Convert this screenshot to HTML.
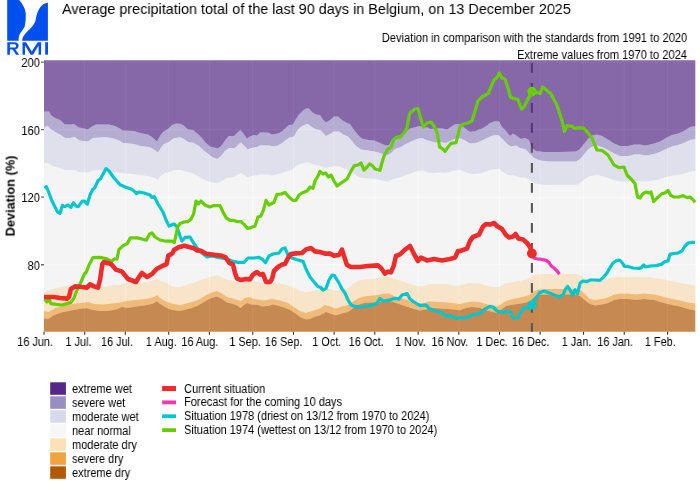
<!DOCTYPE html>
<html><head><meta charset="utf-8"><title>RMI precipitation</title>
<style>
html,body{margin:0;padding:0;background:#fff;}
body{width:700px;height:490px;position:relative;overflow:hidden;font-family:"Liberation Sans",sans-serif;color:#000;}
svg{position:absolute;left:0;top:0;}
.t{position:absolute;white-space:nowrap;line-height:1;will-change:transform;}
.title{left:62.0px;top:1.3px;font-size:15px;transform:scaleX(0.96);transform-origin:0 50%;}
.sub{right:12.6px;font-size:12.5px;text-align:right;transform:scaleX(0.89);transform-origin:100% 50%;}
.xl{font-size:12.4px;top:335.7px;transform:translateX(-75%) scaleX(0.878);transform-origin:75% 50%;color:#000;}
.yl{font-size:12.5px;right:660.6px;transform:scaleX(0.89);transform-origin:100% 50%;color:#000;}
.lg{font-size:12.3px;transform:scaleX(0.896);transform-origin:0 50%;}
.rmi{left:6.5px;top:40.5px;font-size:17.5px;color:#0050f0;letter-spacing:1.2px;}
.ytitle{left:11.3px;top:196px;font-size:12.75px;font-weight:bold;transform:translate(-50%,-50%) rotate(-90deg);}
</style></head><body>
<svg width="700" height="490" viewBox="0 0 700 490">
<rect x="44.0" y="60.3" width="651.3" height="271.4" fill="#ebebeb"/>
<path d="M84.67 60.3V331.7M125.34 60.3V331.7M168.72 60.3V331.7M209.39 60.3V331.7M252.77 60.3V331.7M293.44 60.3V331.7M334.11 60.3V331.7M374.78 60.3V331.7M418.16 60.3V331.7M458.83 60.3V331.7M499.50 60.3V331.7M540.17 60.3V331.7M583.55 60.3V331.7M624.22 60.3V331.7M667.60 60.3V331.7M44.0 62.10H695.3M44.0 129.65H695.3M44.0 197.20H695.3M44.0 264.75H695.3" stroke="#fff" stroke-width="1.08" fill="none"/>
<polygon points="44.0,111.4 49.0,111.4 51.0,115.0 55.0,118.0 60.0,120.0 65.0,124.6 70.0,124.6 74.0,124.0 79.0,127.4 84.4,128.6 87.6,129.4 92.0,126.6 96.0,124.4 109.0,124.4 115.0,126.0 120.0,128.6 122.4,130.6 134.0,131.0 140.0,133.0 148.0,134.6 152.0,137.0 157.0,141.4 160.0,136.0 163.0,132.0 168.0,129.0 172.0,125.0 176.0,123.4 180.0,123.8 183.0,125.0 188.0,129.4 193.0,130.0 198.0,134.0 202.0,138.0 206.0,143.0 210.0,146.6 214.0,147.4 218.0,148.6 222.0,145.0 226.0,139.0 229.0,136.0 234.0,136.0 238.0,132.0 240.4,130.0 243.0,133.0 247.0,138.6 250.0,136.6 254.0,135.0 257.0,135.4 260.0,132.6 268.0,132.6 272.0,134.6 278.0,133.4 282.0,131.4 286.0,127.4 289.0,125.0 293.0,124.6 296.0,119.0 299.0,114.6 303.0,110.6 306.0,108.6 309.0,108.6 312.0,112.0 316.0,114.6 320.0,115.0 323.0,119.4 326.0,122.6 330.0,120.0 334.0,116.6 338.0,116.6 342.0,120.0 346.0,122.6 350.0,124.0 354.0,130.0 359.0,136.0 362.0,138.6 368.0,140.0 374.0,140.6 380.0,143.0 386.0,145.4 389.0,145.0 392.0,139.4 396.0,136.6 400.0,135.0 406.0,132.0 410.0,128.6 416.0,127.0 420.0,126.0 424.0,127.4 428.0,127.5 430.0,129.0 439.0,128.2 443.0,128.5 447.0,129.8 450.0,127.5 454.5,124.5 458.5,124.0 463.0,126.5 467.0,130.0 470.0,131.8 475.0,131.2 482.0,128.5 487.0,125.5 490.0,123.0 495.0,121.3 499.0,121.5 502.0,127.0 506.0,131.0 510.0,136.0 513.0,133.6 517.0,136.0 521.0,139.0 525.0,138.0 529.0,140.0 532.0,148.0 536.0,151.0 544.0,152.0 560.0,152.0 576.0,151.6 580.0,149.0 584.0,144.0 588.0,139.0 592.0,135.6 597.0,134.4 602.0,136.0 608.0,139.6 614.0,143.6 620.0,146.0 628.0,146.0 634.0,144.4 640.0,144.4 646.0,145.6 654.0,143.6 660.0,141.6 666.0,138.0 672.0,135.0 678.0,133.6 684.0,131.0 690.0,127.0 695.3,126.0 695.3,139.0 690.0,140.0 684.0,143.0 678.0,145.0 672.0,146.4 666.0,149.0 660.0,152.0 654.0,154.0 646.0,155.6 640.0,154.4 634.0,154.4 628.0,156.0 620.0,156.0 614.0,153.6 608.0,150.0 602.0,147.0 597.0,145.6 592.0,146.4 588.0,149.6 584.0,154.4 580.0,159.0 576.0,161.6 560.0,161.4 548.0,161.4 540.0,160.6 534.0,158.0 530.0,154.0 526.0,149.4 520.0,148.0 516.0,145.4 511.0,146.6 507.0,144.0 502.0,138.6 498.0,135.0 493.0,135.4 488.0,137.4 482.0,140.6 476.0,143.0 470.0,143.4 465.0,140.6 460.0,138.3 456.0,138.6 451.0,140.6 446.0,143.0 440.0,142.0 435.0,142.6 430.0,141.0 426.0,140.0 422.0,138.0 417.0,139.0 411.0,141.4 406.0,144.0 400.0,147.4 395.0,149.0 391.0,153.0 387.0,155.4 380.0,153.0 374.0,151.4 368.0,150.6 361.0,149.4 356.0,146.0 352.0,141.0 348.0,136.6 343.0,134.6 339.0,131.4 334.0,131.4 330.0,134.0 326.0,136.0 323.0,133.0 320.0,130.0 316.0,129.4 311.0,126.6 308.0,124.0 304.0,125.0 300.0,127.4 297.0,131.0 294.0,136.6 290.0,137.4 286.0,140.0 282.0,143.0 278.0,145.4 273.0,146.6 269.0,145.4 260.0,145.4 257.0,147.0 251.0,148.0 247.6,149.4 244.0,145.4 241.0,142.6 239.0,144.0 235.0,148.0 229.0,148.0 225.0,151.0 221.0,156.0 217.0,159.0 212.0,157.0 207.0,153.0 202.0,149.0 199.0,146.0 194.0,143.0 188.0,142.0 184.0,139.0 180.0,137.2 173.0,138.6 169.0,142.0 164.0,144.0 161.0,147.4 158.0,152.6 154.0,149.4 149.0,147.0 140.0,146.0 134.0,144.0 123.0,143.0 120.0,141.0 115.0,139.0 106.0,137.0 93.0,138.0 88.0,141.4 79.0,140.6 75.0,137.0 70.0,138.0 65.0,138.0 60.0,134.6 56.0,132.6 51.0,129.4 48.0,126.0 44.0,127.0" fill="#998ec3" fill-opacity="0.67"/>
<polygon points="44.0,127.0 48.0,126.0 51.0,129.4 56.0,132.6 60.0,134.6 65.0,138.0 70.0,138.0 75.0,137.0 79.0,140.6 88.0,141.4 93.0,138.0 106.0,137.0 115.0,139.0 120.0,141.0 123.0,143.0 134.0,144.0 140.0,146.0 149.0,147.0 154.0,149.4 158.0,152.6 161.0,147.4 164.0,144.0 169.0,142.0 173.0,138.6 180.0,137.2 184.0,139.0 188.0,142.0 194.0,143.0 199.0,146.0 202.0,149.0 207.0,153.0 212.0,157.0 217.0,159.0 221.0,156.0 225.0,151.0 229.0,148.0 235.0,148.0 239.0,144.0 241.0,142.6 244.0,145.4 247.6,149.4 251.0,148.0 257.0,147.0 260.0,145.4 269.0,145.4 273.0,146.6 278.0,145.4 282.0,143.0 286.0,140.0 290.0,137.4 294.0,136.6 297.0,131.0 300.0,127.4 304.0,125.0 308.0,124.0 311.0,126.6 316.0,129.4 320.0,130.0 323.0,133.0 326.0,136.0 330.0,134.0 334.0,131.4 339.0,131.4 343.0,134.6 348.0,136.6 352.0,141.0 356.0,146.0 361.0,149.4 368.0,150.6 374.0,151.4 380.0,153.0 387.0,155.4 391.0,153.0 395.0,149.0 400.0,147.4 406.0,144.0 411.0,141.4 417.0,139.0 422.0,138.0 426.0,140.0 430.0,141.0 435.0,142.6 440.0,142.0 446.0,143.0 451.0,140.6 456.0,138.6 460.0,138.3 465.0,140.6 470.0,143.4 476.0,143.0 482.0,140.6 488.0,137.4 493.0,135.4 498.0,135.0 502.0,138.6 507.0,144.0 511.0,146.6 516.0,145.4 520.0,148.0 526.0,149.4 530.0,154.0 534.0,158.0 540.0,160.6 548.0,161.4 560.0,161.4 576.0,161.6 580.0,159.0 584.0,154.4 588.0,149.6 592.0,146.4 597.0,145.6 602.0,147.0 608.0,150.0 614.0,153.6 620.0,156.0 628.0,156.0 634.0,154.4 640.0,154.4 646.0,155.6 654.0,154.0 660.0,152.0 666.0,149.0 672.0,146.4 678.0,145.0 684.0,143.0 690.0,140.0 695.3,139.0 695.3,171.0 690.0,171.6 684.0,173.6 676.0,175.0 668.0,176.4 660.0,179.0 654.0,180.4 646.0,181.6 636.0,181.0 628.0,181.6 620.0,181.6 614.0,180.0 608.0,178.0 602.0,176.0 597.0,175.0 590.0,176.0 585.0,179.0 580.0,183.0 576.0,185.0 572.0,185.0 548.0,185.0 540.0,184.6 534.0,183.0 530.0,180.0 526.0,177.4 520.0,177.4 514.0,175.4 508.0,175.0 503.0,172.0 499.0,169.0 492.0,169.4 486.0,171.4 480.0,173.4 472.0,174.0 466.0,172.6 460.0,170.0 452.0,171.0 446.0,173.0 440.0,172.6 434.0,173.0 428.0,172.6 423.0,170.6 418.0,171.0 412.0,173.0 406.0,175.0 400.0,177.4 394.0,179.0 388.0,181.4 382.0,180.6 376.0,179.0 368.0,178.6 360.0,177.4 355.0,174.6 350.0,171.0 344.0,168.6 338.0,166.0 330.0,167.0 325.0,168.0 320.0,165.8 313.0,164.4 309.0,162.4 305.0,162.4 300.0,164.0 296.0,166.0 292.0,170.0 286.0,171.6 280.0,173.6 273.0,175.6 268.0,174.4 260.0,174.4 252.0,176.0 248.0,177.6 244.0,175.0 241.0,173.0 239.0,174.0 234.0,177.0 227.0,178.0 222.0,181.0 217.0,183.0 210.0,182.0 204.0,179.6 198.0,176.0 192.0,173.0 186.0,171.6 180.0,170.0 174.0,170.0 170.0,172.0 165.0,173.0 161.0,175.4 158.0,179.4 152.0,177.0 144.0,175.4 134.0,174.0 120.0,173.0 112.0,171.4 104.0,170.0 93.0,170.6 88.0,172.6 79.0,172.0 75.0,170.0 65.0,170.0 60.0,168.0 52.0,166.0 49.0,163.4 44.0,163.0" fill="#d8daeb" fill-opacity="0.67"/>
<polygon points="44.0,163.0 49.0,163.4 52.0,166.0 60.0,168.0 65.0,170.0 75.0,170.0 79.0,172.0 88.0,172.6 93.0,170.6 104.0,170.0 112.0,171.4 120.0,173.0 134.0,174.0 144.0,175.4 152.0,177.0 158.0,179.4 161.0,175.4 165.0,173.0 170.0,172.0 174.0,170.0 180.0,170.0 186.0,171.6 192.0,173.0 198.0,176.0 204.0,179.6 210.0,182.0 217.0,183.0 222.0,181.0 227.0,178.0 234.0,177.0 239.0,174.0 241.0,173.0 244.0,175.0 248.0,177.6 252.0,176.0 260.0,174.4 268.0,174.4 273.0,175.6 280.0,173.6 286.0,171.6 292.0,170.0 296.0,166.0 300.0,164.0 305.0,162.4 309.0,162.4 313.0,164.4 320.0,165.8 325.0,168.0 330.0,167.0 338.0,166.0 344.0,168.6 350.0,171.0 355.0,174.6 360.0,177.4 368.0,178.6 376.0,179.0 382.0,180.6 388.0,181.4 394.0,179.0 400.0,177.4 406.0,175.0 412.0,173.0 418.0,171.0 423.0,170.6 428.0,172.6 434.0,173.0 440.0,172.6 446.0,173.0 452.0,171.0 460.0,170.0 466.0,172.6 472.0,174.0 480.0,173.4 486.0,171.4 492.0,169.4 499.0,169.0 503.0,172.0 508.0,175.0 514.0,175.4 520.0,177.4 526.0,177.4 530.0,180.0 534.0,183.0 540.0,184.6 548.0,185.0 572.0,185.0 576.0,185.0 580.0,183.0 585.0,179.0 590.0,176.0 597.0,175.0 602.0,176.0 608.0,178.0 614.0,180.0 620.0,181.6 628.0,181.6 636.0,181.0 646.0,181.6 654.0,180.4 660.0,179.0 668.0,176.4 676.0,175.0 684.0,173.6 690.0,171.6 695.3,171.0 695.3,285.6 688.0,284.4 680.0,283.0 672.0,281.6 664.0,279.6 654.0,278.0 644.0,277.0 636.0,277.6 628.0,277.0 618.0,277.0 612.0,278.0 606.0,279.6 600.0,281.5 590.0,280.5 585.0,279.0 581.0,275.6 576.0,274.0 540.1,274.0 533.6,275.2 528.4,279.2 519.2,281.1 512.0,282.2 506.1,283.7 501.0,286.2 497.0,287.6 487.8,286.3 484.0,285.2 480.0,283.6 476.0,283.4 468.6,283.2 464.0,284.3 460.0,285.6 455.0,286.6 451.0,285.0 446.0,284.0 434.0,284.0 427.4,284.6 423.0,286.6 416.0,285.7 407.0,282.9 400.0,280.8 394.0,279.0 388.0,277.0 382.0,277.0 376.0,278.4 371.4,278.9 365.0,279.5 358.9,280.6 353.1,284.0 350.0,286.8 347.4,289.0 342.0,289.8 336.0,290.4 328.0,289.0 320.0,289.4 314.0,291.0 306.0,292.4 300.0,291.0 292.0,287.0 284.0,284.4 276.0,283.0 270.0,284.0 262.0,283.0 254.0,281.6 248.0,281.0 240.0,282.4 234.0,281.0 228.0,280.0 222.0,277.6 217.0,275.6 210.0,277.0 204.0,279.0 196.0,282.0 188.0,284.4 180.0,287.3 172.0,286.4 168.0,283.6 161.0,281.6 157.0,279.0 154.0,280.0 148.0,282.0 140.0,283.0 134.0,283.6 126.0,283.0 120.0,285.0 112.0,285.6 104.0,287.0 92.0,287.0 84.4,288.0 76.0,286.4 68.0,285.6 60.0,287.6 50.0,290.0 44.0,292.4" fill="#f7f7f7" fill-opacity="0.67"/>
<polygon points="44.0,292.4 50.0,290.0 60.0,287.6 68.0,285.6 76.0,286.4 84.4,288.0 92.0,287.0 104.0,287.0 112.0,285.6 120.0,285.0 126.0,283.0 134.0,283.6 140.0,283.0 148.0,282.0 154.0,280.0 157.0,279.0 161.0,281.6 168.0,283.6 172.0,286.4 180.0,287.3 188.0,284.4 196.0,282.0 204.0,279.0 210.0,277.0 217.0,275.6 222.0,277.6 228.0,280.0 234.0,281.0 240.0,282.4 248.0,281.0 254.0,281.6 262.0,283.0 270.0,284.0 276.0,283.0 284.0,284.4 292.0,287.0 300.0,291.0 306.0,292.4 314.0,291.0 320.0,289.4 328.0,289.0 336.0,290.4 342.0,289.8 347.4,289.0 350.0,286.8 353.1,284.0 358.9,280.6 365.0,279.5 371.4,278.9 376.0,278.4 382.0,277.0 388.0,277.0 394.0,279.0 400.0,280.8 407.0,282.9 416.0,285.7 423.0,286.6 427.4,284.6 434.0,284.0 446.0,284.0 451.0,285.0 455.0,286.6 460.0,285.6 464.0,284.3 468.6,283.2 476.0,283.4 480.0,283.6 484.0,285.2 487.8,286.3 497.0,287.6 501.0,286.2 506.1,283.7 512.0,282.2 519.2,281.1 528.4,279.2 533.6,275.2 540.1,274.0 576.0,274.0 581.0,275.6 585.0,279.0 590.0,280.5 600.0,281.5 606.0,279.6 612.0,278.0 618.0,277.0 628.0,277.0 636.0,277.6 644.0,277.0 654.0,278.0 664.0,279.6 672.0,281.6 680.0,283.0 688.0,284.4 695.3,285.6 695.3,303.6 688.0,302.4 680.0,300.4 672.0,299.0 664.0,297.0 654.0,294.4 644.0,293.6 636.0,294.4 628.0,293.6 620.0,293.6 614.0,294.4 608.0,297.6 602.0,299.0 595.0,300.0 589.0,298.4 585.0,294.0 581.0,290.5 576.0,289.0 548.0,289.0 538.2,289.4 533.6,291.6 529.7,294.8 523.1,296.8 514.0,298.8 506.1,300.7 501.6,304.0 497.0,306.6 487.8,304.6 480.0,302.2 472.0,301.6 466.0,302.4 460.0,304.0 448.0,302.4 438.0,302.0 429.0,301.6 424.0,303.0 418.0,303.6 412.0,302.0 406.0,299.6 400.0,298.0 394.0,296.0 389.0,293.6 384.0,293.6 378.0,295.0 372.0,295.6 364.0,296.4 358.0,298.4 353.0,301.6 348.0,305.0 342.0,306.4 336.0,308.4 330.0,306.4 325.0,305.0 320.0,308.5 312.0,311.0 306.0,313.0 300.0,311.0 294.0,307.0 288.0,303.0 280.0,300.4 272.0,299.0 264.0,300.4 254.0,299.0 249.0,297.0 245.0,298.0 241.0,301.0 234.0,299.0 227.0,297.0 222.0,293.6 217.0,291.0 210.0,293.0 204.0,296.4 198.0,300.0 192.0,302.0 186.0,303.6 180.0,305.2 172.0,303.6 165.0,301.0 160.0,298.0 157.0,295.0 154.0,297.0 146.0,299.0 136.0,300.0 126.0,301.0 120.0,302.4 112.0,303.6 104.0,304.4 94.0,304.0 88.0,302.0 84.4,302.4 76.0,303.4 66.9,304.7 60.0,306.8 55.4,308.0 52.0,310.0 48.6,312.0 44.0,311.0" fill="#fee0b6" fill-opacity="0.67"/>
<polygon points="44.0,311.0 48.6,312.0 52.0,310.0 55.4,308.0 60.0,306.8 66.9,304.7 76.0,303.4 84.4,302.4 88.0,302.0 94.0,304.0 104.0,304.4 112.0,303.6 120.0,302.4 126.0,301.0 136.0,300.0 146.0,299.0 154.0,297.0 157.0,295.0 160.0,298.0 165.0,301.0 172.0,303.6 180.0,305.2 186.0,303.6 192.0,302.0 198.0,300.0 204.0,296.4 210.0,293.0 217.0,291.0 222.0,293.6 227.0,297.0 234.0,299.0 241.0,301.0 245.0,298.0 249.0,297.0 254.0,299.0 264.0,300.4 272.0,299.0 280.0,300.4 288.0,303.0 294.0,307.0 300.0,311.0 306.0,313.0 312.0,311.0 320.0,308.5 325.0,305.0 330.0,306.4 336.0,308.4 342.0,306.4 348.0,305.0 353.0,301.6 358.0,298.4 364.0,296.4 372.0,295.6 378.0,295.0 384.0,293.6 389.0,293.6 394.0,296.0 400.0,298.0 406.0,299.6 412.0,302.0 418.0,303.6 424.0,303.0 429.0,301.6 438.0,302.0 448.0,302.4 460.0,304.0 466.0,302.4 472.0,301.6 480.0,302.2 487.8,304.6 497.0,306.6 501.6,304.0 506.1,300.7 514.0,298.8 523.1,296.8 529.7,294.8 533.6,291.6 538.2,289.4 548.0,289.0 576.0,289.0 581.0,290.5 585.0,294.0 589.0,298.4 595.0,300.0 602.0,299.0 608.0,297.6 614.0,294.4 620.0,293.6 628.0,293.6 636.0,294.4 644.0,293.6 654.0,294.4 664.0,297.0 672.0,299.0 680.0,300.4 688.0,302.4 695.3,303.6 695.3,310.4 688.0,309.0 680.0,306.4 672.0,305.0 664.0,303.0 654.0,300.0 644.0,299.0 636.0,300.0 628.0,299.0 620.0,299.0 614.0,300.0 608.0,303.0 602.0,304.4 595.0,305.6 589.0,303.6 584.0,299.6 580.0,296.0 576.0,294.6 548.0,294.5 538.2,294.9 533.6,297.5 529.7,301.4 523.1,303.3 514.0,304.6 506.1,305.9 501.6,309.2 497.0,312.9 487.8,310.8 480.0,307.9 472.0,307.0 466.0,308.0 460.0,310.2 448.0,309.0 440.0,308.4 432.0,308.0 426.0,309.6 420.0,310.4 414.0,309.0 408.0,307.0 402.0,305.0 396.0,303.0 390.0,301.0 386.0,301.0 380.0,302.0 372.0,302.4 364.0,303.0 358.0,305.0 352.0,309.0 348.0,312.0 342.0,313.6 336.0,315.6 330.0,313.6 326.0,312.0 320.0,315.3 314.0,317.0 310.0,319.0 306.0,319.6 300.0,317.0 295.0,313.0 290.0,310.0 284.0,307.6 279.0,306.0 273.0,304.4 268.0,306.0 262.0,306.4 258.0,305.0 251.0,304.4 247.0,303.0 244.0,305.0 240.6,308.0 237.0,305.6 233.0,304.0 227.0,302.4 222.0,299.0 217.0,296.4 210.0,298.4 204.0,302.0 198.0,305.6 192.0,308.0 186.0,309.6 180.0,311.0 172.0,310.0 166.0,307.6 160.0,304.0 157.0,301.6 152.0,304.0 144.0,305.6 136.0,306.4 128.0,308.0 122.0,307.0 116.0,309.6 108.0,311.0 100.0,311.0 92.0,309.8 86.9,308.2 81.7,308.6 72.6,310.3 62.3,312.3 53.1,315.4 50.5,317.5 48.0,319.2 44.0,318.2" fill="#f1a340" fill-opacity="0.67"/>
<polygon points="44.0,318.2 48.0,319.2 50.5,317.5 53.1,315.4 62.3,312.3 72.6,310.3 81.7,308.6 86.9,308.2 92.0,309.8 100.0,311.0 108.0,311.0 116.0,309.6 122.0,307.0 128.0,308.0 136.0,306.4 144.0,305.6 152.0,304.0 157.0,301.6 160.0,304.0 166.0,307.6 172.0,310.0 180.0,311.0 186.0,309.6 192.0,308.0 198.0,305.6 204.0,302.0 210.0,298.4 217.0,296.4 222.0,299.0 227.0,302.4 233.0,304.0 237.0,305.6 240.6,308.0 244.0,305.0 247.0,303.0 251.0,304.4 258.0,305.0 262.0,306.4 268.0,306.0 273.0,304.4 279.0,306.0 284.0,307.6 290.0,310.0 295.0,313.0 300.0,317.0 306.0,319.6 310.0,319.0 314.0,317.0 320.0,315.3 326.0,312.0 330.0,313.6 336.0,315.6 342.0,313.6 348.0,312.0 352.0,309.0 358.0,305.0 364.0,303.0 372.0,302.4 380.0,302.0 386.0,301.0 390.0,301.0 396.0,303.0 402.0,305.0 408.0,307.0 414.0,309.0 420.0,310.4 426.0,309.6 432.0,308.0 440.0,308.4 448.0,309.0 460.0,310.2 466.0,308.0 472.0,307.0 480.0,307.9 487.8,310.8 497.0,312.9 501.6,309.2 506.1,305.9 514.0,304.6 523.1,303.3 529.7,301.4 533.6,297.5 538.2,294.9 548.0,294.5 576.0,294.6 580.0,296.0 584.0,299.6 589.0,303.6 595.0,305.6 602.0,304.4 608.0,303.0 614.0,300.0 620.0,299.0 628.0,299.0 636.0,300.0 644.0,299.0 654.0,300.0 664.0,303.0 672.0,305.0 680.0,306.4 688.0,309.0 695.3,310.4 695.3,331.7 44.0,331.7" fill="#b35806" fill-opacity="0.67"/>
<path d="M531.9 60.3V331.7" stroke="#595959" stroke-width="2.1" stroke-dasharray="9.7 10.3" stroke-dashoffset="-2.7" fill="none"/>
<polygon points="44.0,60.3 695.3,60.3 695.3,126.0 690.0,127.0 684.0,131.0 678.0,133.6 672.0,135.0 666.0,138.0 660.0,141.6 654.0,143.6 646.0,145.6 640.0,144.4 634.0,144.4 628.0,146.0 620.0,146.0 614.0,143.6 608.0,139.6 602.0,136.0 597.0,134.4 592.0,135.6 588.0,139.0 584.0,144.0 580.0,149.0 576.0,151.6 560.0,152.0 544.0,152.0 536.0,151.0 532.0,148.0 529.0,140.0 525.0,138.0 521.0,139.0 517.0,136.0 513.0,133.6 510.0,136.0 506.0,131.0 502.0,127.0 499.0,121.5 495.0,121.3 490.0,123.0 487.0,125.5 482.0,128.5 475.0,131.2 470.0,131.8 467.0,130.0 463.0,126.5 458.5,124.0 454.5,124.5 450.0,127.5 447.0,129.8 443.0,128.5 439.0,128.2 430.0,129.0 428.0,127.5 424.0,127.4 420.0,126.0 416.0,127.0 410.0,128.6 406.0,132.0 400.0,135.0 396.0,136.6 392.0,139.4 389.0,145.0 386.0,145.4 380.0,143.0 374.0,140.6 368.0,140.0 362.0,138.6 359.0,136.0 354.0,130.0 350.0,124.0 346.0,122.6 342.0,120.0 338.0,116.6 334.0,116.6 330.0,120.0 326.0,122.6 323.0,119.4 320.0,115.0 316.0,114.6 312.0,112.0 309.0,108.6 306.0,108.6 303.0,110.6 299.0,114.6 296.0,119.0 293.0,124.6 289.0,125.0 286.0,127.4 282.0,131.4 278.0,133.4 272.0,134.6 268.0,132.6 260.0,132.6 257.0,135.4 254.0,135.0 250.0,136.6 247.0,138.6 243.0,133.0 240.4,130.0 238.0,132.0 234.0,136.0 229.0,136.0 226.0,139.0 222.0,145.0 218.0,148.6 214.0,147.4 210.0,146.6 206.0,143.0 202.0,138.0 198.0,134.0 193.0,130.0 188.0,129.4 183.0,125.0 180.0,123.8 176.0,123.4 172.0,125.0 168.0,129.0 163.0,132.0 160.0,136.0 157.0,141.4 152.0,137.0 148.0,134.6 140.0,133.0 134.0,131.0 122.4,130.6 120.0,128.6 115.0,126.0 109.0,124.4 96.0,124.4 92.0,126.6 87.6,129.4 84.4,128.6 79.0,127.4 74.0,124.0 70.0,124.6 65.0,124.6 60.0,120.0 55.0,118.0 51.0,115.0 49.0,111.4 44.0,111.4" fill="#542788" fill-opacity="0.67"/>
<polyline points="44.4,188.0 46.4,186.6 49.0,193.0 52.0,201.0 55.0,207.0 57.6,212.0 60.0,213.4 62.4,205.4 65.0,206.6 68.0,205.0 71.0,207.4 73.4,202.6 76.0,206.0 78.4,206.6 82.0,201.4 84.4,201.0 87.4,204.0 90.0,195.0 92.4,190.0 95.0,187.4 98.0,180.6 100.4,179.0 103.6,173.0 106.0,168.6 109.0,171.0 114.0,178.0 120.0,184.6 125.0,187.0 131.0,189.0 134.0,191.0 136.4,193.6 139.0,192.0 144.0,193.0 150.0,195.0 152.0,197.4 154.4,196.6 158.0,204.0 163.0,212.0 166.0,220.0 169.0,226.0 174.0,224.0 177.0,227.0 180.0,236.0 182.0,241.0 185.0,237.4 190.0,237.0 193.0,242.0 197.0,248.0 202.0,253.0 207.0,257.0 212.0,256.0 218.0,257.4 226.0,258.6 232.0,261.0 238.0,262.4 244.0,262.4 248.0,258.0 254.0,258.0 259.0,257.4 262.0,259.0 265.6,262.6 269.0,256.0 273.0,254.0 279.0,253.0 282.0,249.0 285.0,248.0 288.0,255.0 292.0,258.0 298.0,260.0 303.0,261.4 306.0,269.0 310.0,277.0 314.0,282.0 318.0,286.6 320.0,287.0 323.0,290.0 326.0,288.4 329.0,280.0 332.0,275.0 334.4,275.6 339.0,283.0 342.0,289.0 345.0,293.0 348.0,300.0 351.0,305.0 355.0,306.4 360.0,307.0 368.0,306.0 373.0,305.0 377.0,303.0 380.0,298.4 383.0,301.0 388.0,300.4 394.0,298.4 399.0,299.0 402.0,295.0 407.0,293.6 410.0,299.0 414.0,302.0 420.0,305.6 426.0,305.0 429.0,308.4 434.0,310.4 442.0,313.0 446.0,316.4 451.0,315.6 456.0,318.4 460.0,317.5 467.0,317.6 472.0,315.0 480.0,313.6 485.0,309.0 490.0,306.4 493.0,307.0 497.0,311.0 502.0,312.4 508.0,311.0 510.4,312.4 513.0,317.6 518.0,318.0 521.0,312.0 524.0,307.6 528.0,308.4 532.0,305.0 536.0,298.0 540.0,292.4 544.0,291.0 551.0,293.6 559.0,297.0 563.0,295.0 565.0,290.0 567.6,286.4 570.0,290.0 572.6,295.0 575.0,289.6 577.6,293.6 580.0,283.3 583.0,281.0 587.0,281.6 590.0,280.0 595.0,280.0 600.0,280.4 603.0,277.6 607.0,273.0 610.0,267.6 613.0,263.0 617.0,260.4 620.0,260.4 622.4,263.0 624.4,266.4 628.0,266.4 633.0,268.0 639.0,268.4 641.6,267.6 643.6,265.0 645.6,267.0 650.0,266.0 656.0,265.6 661.0,264.4 665.0,261.6 668.0,261.0 670.0,254.4 673.0,253.6 678.0,253.0 682.0,251.0 685.0,246.0 688.0,243.0 692.0,242.4 695.0,242.4" fill="none" stroke="#00c5cd" stroke-width="3.2" stroke-linejoin="round" stroke-linecap="butt"/>
<polyline points="44.4,299.0 47.0,302.0 49.0,299.0 51.0,303.6 56.0,304.4 62.0,305.0 67.0,303.6 71.0,302.4 74.0,298.0 77.0,290.0 81.0,282.0 84.4,274.0 86.4,272.0 89.0,265.0 93.0,257.6 100.0,257.4 106.9,258.9 111.4,261.5 114.3,259.0 117.1,258.9 118.9,249.5 122.9,245.9 127.4,243.5 130.3,237.8 137.7,237.9 146.3,240.2 149.6,234.0 152.0,233.0 155.0,237.0 160.0,240.0 166.0,241.2 172.0,241.2 174.3,242.6 176.0,235.0 177.7,227.0 180.0,223.5 184.0,222.0 188.0,221.6 191.0,219.0 193.6,214.0 196.0,201.0 198.4,204.0 201.0,201.0 205.0,205.0 209.6,207.0 214.0,205.6 220.0,205.6 223.0,212.0 226.0,217.6 230.0,220.4 234.0,220.4 237.0,221.6 241.0,221.6 244.0,224.4 247.6,228.4 251.0,227.6 255.0,226.0 258.0,217.0 261.0,216.0 263.6,209.6 266.0,200.4 269.0,205.0 274.0,202.4 277.0,194.4 281.0,194.0 285.0,192.4 289.0,197.0 293.0,200.4 296.0,200.4 299.0,195.0 302.0,193.0 307.0,191.0 310.0,187.0 313.0,188.4 315.0,181.0 318.0,176.0 320.0,171.5 323.0,174.0 325.6,173.0 328.4,177.0 331.0,175.0 334.0,181.0 337.0,186.0 342.0,182.4 347.0,179.0 351.0,171.0 354.4,165.6 358.0,165.0 361.0,163.0 364.0,170.0 367.0,167.0 369.6,164.0 372.4,165.6 375.0,169.0 380.0,170.3 382.4,161.0 384.4,155.0 388.0,149.0 391.0,147.4 393.6,139.4 396.0,137.4 400.0,137.4 404.0,133.0 407.0,128.0 409.0,116.0 410.4,112.6 415.0,109.0 418.0,108.6 420.0,116.0 423.4,127.0 427.0,123.0 431.0,122.0 434.0,126.0 437.0,132.0 439.6,147.0 442.4,148.6 445.0,151.4 448.0,147.0 451.0,143.4 456.0,142.6 458.0,135.0 460.0,126.5 463.0,124.0 468.0,123.0 472.0,121.0 475.0,111.0 478.0,101.0 482.0,97.0 488.0,93.6 491.0,87.0 494.0,80.0 497.0,77.6 499.4,73.0 502.0,78.0 505.0,79.0 508.0,88.0 510.4,97.0 514.0,98.4 518.0,99.6 521.6,109.0 524.0,107.0 528.0,99.0 532.0,91.6 537.0,92.4 540.0,93.6 542.6,87.0 546.0,89.6 551.0,94.0 554.0,100.0 557.0,105.0 560.0,114.5 562.2,121.5 564.4,131.6 567.0,125.6 572.0,126.4 575.0,128.4 579.0,127.6 584.0,128.4 588.0,133.0 592.0,138.0 594.4,144.0 597.0,150.0 602.0,150.4 608.0,155.0 611.0,160.0 614.0,165.0 619.0,167.6 624.0,167.0 627.0,175.0 631.0,179.0 635.0,183.6 637.6,197.0 640.0,198.0 643.0,193.6 646.0,192.0 649.0,193.0 651.0,192.0 653.6,201.6 657.0,198.0 662.0,193.6 665.0,193.0 668.0,190.4 671.0,195.6 674.0,197.0 679.0,197.0 683.0,195.6 687.0,197.6 690.0,197.0 693.0,199.6 695.0,202.4" fill="none" stroke="#66cd00" stroke-width="3.2" stroke-linejoin="round" stroke-linecap="butt"/>
<polyline points="532.0,253.4 534.3,258.2 537.0,258.8 540.8,259.2 546.5,260.4 549.0,262.5 551.0,265.7 554.7,268.6 557.1,271.0 559.5,274.3" fill="none" stroke="#ff34b3" stroke-width="3.2" stroke-linejoin="round" stroke-linecap="butt"/>
<polyline points="44.0,297.0 54.0,297.0 60.0,298.0 67.0,298.6 69.0,297.0 71.0,289.0 75.0,286.4 82.0,287.0 87.0,287.6 90.0,284.4 94.0,286.4 98.0,287.6 100.0,280.0 102.4,264.0 104.0,262.0 111.0,264.0 116.0,269.6 122.0,271.6 128.0,279.0 136.0,282.0 139.0,277.0 142.0,273.0 147.0,277.0 152.0,274.0 157.0,268.7 163.7,265.3 166.6,264.1 168.3,255.6 172.3,253.5 174.0,250.0 178.6,247.2 184.3,245.8 188.9,247.0 194.0,248.3 196.9,250.4 200.9,250.8 206.0,253.7 214.0,254.8 222.0,255.8 225.6,257.4 229.0,262.6 233.0,264.6 235.0,273.0 237.0,278.6 241.0,280.0 246.0,279.0 250.0,279.4 253.0,274.6 257.0,272.0 260.0,274.6 263.0,274.0 266.0,282.0 270.0,282.0 272.0,279.0 274.0,271.0 278.0,267.0 282.0,264.6 285.0,264.0 288.0,258.0 291.0,254.0 296.0,253.4 302.0,253.0 306.0,249.4 311.0,248.0 315.0,251.4 320.0,252.0 325.0,253.6 330.0,253.6 334.0,255.6 339.0,255.0 342.0,249.6 344.0,256.0 347.0,265.0 351.0,267.0 360.0,267.0 368.0,266.0 378.0,265.4 381.0,268.0 385.0,273.6 388.0,271.6 391.0,272.4 393.6,266.0 396.0,256.0 400.0,254.4 405.0,249.6 410.0,246.0 414.0,254.0 418.0,261.0 421.0,257.6 427.0,260.4 434.0,259.0 442.0,260.4 450.0,259.0 455.0,257.6 458.0,251.0 460.0,251.0 467.0,248.6 470.0,241.0 473.0,237.0 479.0,234.6 483.0,226.6 486.0,224.0 490.0,224.6 494.0,223.0 497.0,226.0 502.0,229.0 506.0,235.0 509.0,237.4 513.0,236.6 515.6,234.0 518.4,238.6 523.0,239.4 527.0,243.0 530.0,247.0 532.0,253.0" fill="none" stroke="#ee2c2c" stroke-width="4.6" stroke-linejoin="round" stroke-linecap="butt"/>
<circle cx="532" cy="91.6" r="4.8" fill="#66cd00"/>
<circle cx="532" cy="305" r="4.7" fill="#00c5cd"/>
<circle cx="531.9" cy="253.5" r="4.9" fill="#ee2c2c"/>
<path d="M44.00 331.7v3M84.67 331.7v3M125.34 331.7v3M168.72 331.7v3M209.39 331.7v3M252.77 331.7v3M293.44 331.7v3M334.11 331.7v3M374.78 331.7v3M418.16 331.7v3M458.83 331.7v3M499.50 331.7v3M540.17 331.7v3M583.55 331.7v3M624.22 331.7v3M667.60 331.7v3" stroke="#333" stroke-width="1.08" fill="none"/>
<path d="M44.0 62.10h-3M44.0 129.65h-3M44.0 197.20h-3M44.0 264.75h-3" stroke="#6a6a6a" stroke-width="1.3" fill="none"/>
<g fill="#0050f0">
<path d="M7.2 0H19.2C22.5 4 25.2 8 25.7 13C26 18 25.6 23 24.5 27C22.5 30.5 19.8 33 19 36C18.7 38 18.6 39.5 18.6 40.8H7.2Z"/>
<path d="M47.9 2.8C45 3.2 42.5 4.5 40.5 7C38 10 36.8 14 36 18C35.5 21.5 34.5 23.5 32.5 26C29.5 29.5 25.5 33 23 37C22.3 38.3 22.1 39.5 22.1 40.8H47.9Z"/>
</g>
<g fill="#0050f0">
<path fill-rule="evenodd" d="M7.3 42.2H14.6C17.2 42.2 18.6 43.6 18.6 45.8C18.6 47.8 17.3 49 15.3 49.4L19.2 54.7H16.2L12.6 49.6H9.9V54.7H7.3ZM9.9 44.2V47.6H14.3C15.5 47.6 16 46.9 16 45.9C16 44.8 15.4 44.2 14.2 44.2Z"/>
<path d="M22.5 54.7V42.2H26L31.8 51.6L37.6 42.2H41.1V54.7H38.6V45.6L33 54.7H30.6L25 45.6V54.7Z"/>
<rect x="45.2" y="42.2" width="2.8" height="12.5"/>
</g>
<rect x="50.2" y="382.30" width="15.7" height="12.5" fill="#542788"/>
<rect x="50.2" y="396.30" width="15.7" height="12.5" fill="#998ec3"/>
<rect x="50.2" y="410.30" width="15.7" height="12.5" fill="#d8daeb"/>
<rect x="50.2" y="424.30" width="15.7" height="12.5" fill="#f7f7f7"/>
<rect x="50.2" y="438.30" width="15.7" height="12.5" fill="#fee0b6"/>
<rect x="50.2" y="452.30" width="15.7" height="12.5" fill="#f1a340"/>
<rect x="50.2" y="466.30" width="15.7" height="12.5" fill="#b35806"/>
<path d="M162.1 388.50H176.0" stroke="#ee2c2c" stroke-width="5.0" fill="none"/>
<path d="M162.1 402.37H176.0" stroke="#ff34b3" stroke-width="3.8" fill="none"/>
<path d="M162.1 416.24H176.0" stroke="#00c5cd" stroke-width="3.8" fill="none"/>
<path d="M162.1 430.11H176.0" stroke="#66cd00" stroke-width="3.8" fill="none"/>
</svg>
<div class="t title">Average precipitation total of the last 90 days in Belgium, on 13 December 2025</div>
<div class="t sub" style="top:31.8px">Deviation in comparison with the standards from 1991 to 2020</div>
<div class="t sub" style="top:49.0px">Extreme values from 1970 to 2024</div>
<div class="t ytitle">Deviation (%)</div>
<div class="t xl" style="left:44.0px">16 Jun.</div>
<div class="t xl" style="left:84.7px">1 Jul.</div>
<div class="t xl" style="left:125.3px">16 Jul.</div>
<div class="t xl" style="left:168.7px">1 Aug.</div>
<div class="t xl" style="left:209.4px">16 Aug.</div>
<div class="t xl" style="left:252.8px">1 Sep.</div>
<div class="t xl" style="left:293.4px">16 Sep.</div>
<div class="t xl" style="left:334.1px">1 Oct.</div>
<div class="t xl" style="left:374.8px">16 Oct.</div>
<div class="t xl" style="left:418.2px">1 Nov.</div>
<div class="t xl" style="left:458.8px">16 Nov.</div>
<div class="t xl" style="left:499.5px">1 Dec.</div>
<div class="t xl" style="left:540.2px">16 Dec.</div>
<div class="t xl" style="left:583.5px">1 Jan.</div>
<div class="t xl" style="left:624.2px">16 Jan.</div>
<div class="t xl" style="left:667.6px">1 Feb.</div>
<div class="t yl" style="top:56.9px">200</div>
<div class="t yl" style="top:124.5px">160</div>
<div class="t yl" style="top:192.0px">120</div>
<div class="t yl" style="top:259.6px">80</div>
<div class="t lg" style="left:72.4px;top:383.0px">extreme wet</div>
<div class="t lg" style="left:72.4px;top:397.0px">severe wet</div>
<div class="t lg" style="left:72.4px;top:411.0px">moderate wet</div>
<div class="t lg" style="left:72.4px;top:425.0px">near normal</div>
<div class="t lg" style="left:72.4px;top:439.0px">moderate dry</div>
<div class="t lg" style="left:72.4px;top:453.0px">severe dry</div>
<div class="t lg" style="left:72.4px;top:467.0px">extreme dry</div>
<div class="t lg" style="left:183.6px;top:382.5px;transform:scaleX(0.9)">Current situation</div>
<div class="t lg" style="left:183.6px;top:396.4px;transform:scaleX(0.9)">Forecast for the coming 10 days</div>
<div class="t lg" style="left:183.6px;top:410.3px;transform:scaleX(0.8925)">Situation 1978 (driest on 13/12 from 1970 to 2024)</div>
<div class="t lg" style="left:183.6px;top:424.2px;transform:scaleX(0.8925)">Situation 1974 (wettest on 13/12 from 1970 to 2024)</div>
</body></html>
